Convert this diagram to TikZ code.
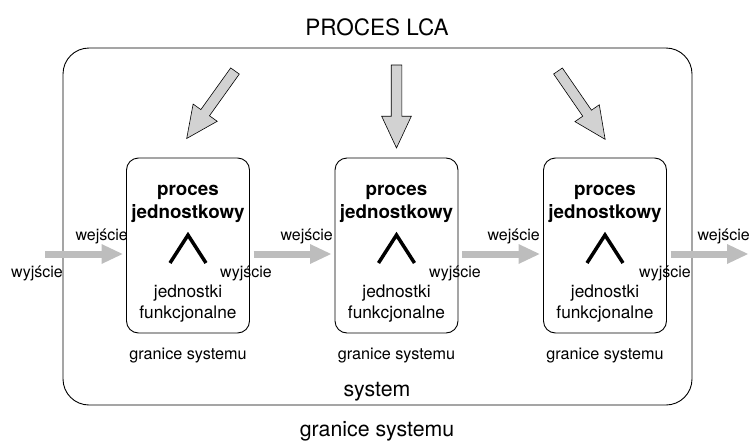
\documentclass[tikz,border=0pt]{standalone}
\usepackage{fontspec}
\setmainfont{TeX Gyre Heros}
\usetikzlibrary{arrows.meta,shapes.arrows,calc}
\definecolor{hgray}{HTML}{BDBDBD}
\definecolor{dgray}{HTML}{D2D2D2}
\tikzset{
  outerbox/.style={draw, line width=0.9pt, rounded corners=26pt, minimum width=629pt, minimum height=357pt, inner sep=0pt, outer sep=0pt},
  procbox/.style={draw, line width=0.9pt, rounded corners=12pt, minimum width=123pt, minimum height=175pt, inner sep=0pt, outer sep=0pt},
  harrow/.style={draw=hgray, line width=7pt, -{Triangle[length=21pt,width=20pt,line width=0pt]}},
  fatarrow/.style={single arrow, draw, fill=dgray, line width=0.6pt, minimum height=83pt, minimum width=29pt, inner sep=0pt, inner ysep=5pt, single arrow head extend=9.5pt, single arrow tip angle=50, anchor=tail, outer sep=0pt},
  chev/.style={line width=3.5pt, miter limit=10},
  titletxt/.style={font=\fontsize{22.5}{22.5}\selectfont, anchor=base, inner sep=0pt},
  boldtxt/.style={font=\fontsize{18.8}{18.8}\selectfont\bfseries, anchor=base, inner sep=0pt},
  midtxt/.style={font=\fontsize{17.3}{17.3}\selectfont, anchor=base, inner sep=0pt},
  smalltxt/.style={font=\fontsize{16.2}{16.2}\selectfont, anchor=base, inner sep=0pt},
  lbl/.style={font=\fontsize{16}{16}\selectfont, inner sep=0pt},
  bigtxt/.style={font=\fontsize{21.3}{21.3}\selectfont, anchor=base, inner sep=0pt}
}
\begin{document}
\begin{tikzpicture}[x=1pt,y=-1pt]
\useasboundingbox (0,0) rectangle (750,442);
\node[outerbox] (outer) at (377.5,226.5) {};
\node[titletxt] (title) at (377,35) {PROCES LCA};
\foreach \i/\cx in {1/188,2/396.5,3/605}{
  \node[procbox] (b\i) at (\cx,245.5) {};
  \node[boldtxt] (pa\i) at (\cx,195) {proces};
  \node[boldtxt] (pb\i) at (\cx,218) {jednostkowy};
  \node[midtxt] (fa\i) at (\cx,297) {jednostki};
  \node[midtxt] (fb\i) at (\cx,318) {funkcjonalne};
  \node[smalltxt] (g\i) at (\cx,359) {granice systemu};
  \draw[chev] (\cx-18,263) -- (\cx,235) -- (\cx+18,263);
}
\node[bigtxt] (sys) at (377,396) {system};
\node[bigtxt] (gs) at (377,436) {granice systemu};
% diagonal input arrows
\node[fatarrow, rotate=234.4] (d1) at (235,71) {};
\node[fatarrow, rotate=270] (d2) at (396.5,65) {};
\node[fatarrow, rotate=-55.4] (d3) at (558,71) {};
% horizontal flow arrows
\coordinate (inL) at (45,254);
\coordinate (outR) at (748,254);
\draw[harrow] (inL) -- ([shift={(-4,8.5)}]b1.west);
\draw[harrow] ([shift={(4,8.5)}]b1.east) -- ([shift={(-4,8.5)}]b2.west);
\draw[harrow] ([shift={(4,8.5)}]b2.east) -- ([shift={(-4,8.5)}]b3.west);
\draw[harrow] ([shift={(4,8.5)}]b3.east) -- (outR);
% labels
\node[lbl, anchor=base east] (we0) at (128,240) {wejście};
\node[lbl, anchor=base east] (we1) at (333,240) {wejście};
\node[lbl, anchor=base east] (we2) at (540,240) {wejście};
\node[lbl, anchor=base east] (we3) at (750,240) {wejście};
\node[lbl, anchor=base east] (wy0) at (63,277) {wyjście};
\node[lbl, anchor=base] (wy1) at (246,277) {wyjście};
\node[lbl, anchor=base] (wy2) at (455,277) {wyjście};
\node[lbl, anchor=base] (wy3) at (665,277) {wyjście};
\end{tikzpicture}
\end{document}
